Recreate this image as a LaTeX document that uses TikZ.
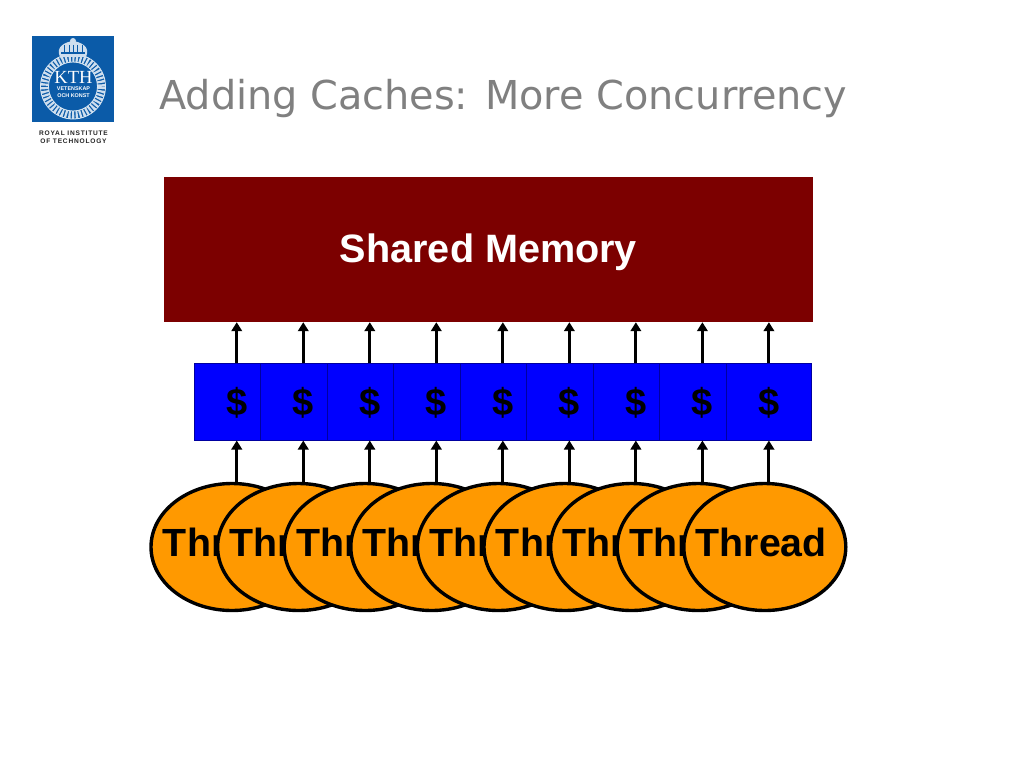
\documentclass[tikz,border=0pt]{standalone}
\usepackage{fontspec}
\setmainfont{Liberation Sans}
\newfontfamily\titlefont{DejaVu Sans}
\newfontfamily\kthfont{Liberation Serif}
\newfontfamily\capfont[LetterSpace=12]{Liberation Sans}
\usetikzlibrary{shapes.geometric,arrows.meta}
\definecolor{kthblue}{HTML}{0B5BA8}
\definecolor{memred}{HTML}{7C0000}
\definecolor{threadorange}{HTML}{FF9900}
\definecolor{titlegray}{HTML}{808080}
\definecolor{cacheedge}{HTML}{0000A0}
\tikzset{
  memorybox/.style={fill=memred,draw=none,minimum width=649pt,minimum height=145pt,inner sep=0pt},
  cachebox/.style={fill=blue,draw=cacheedge,line width=1pt,minimum width=85.5pt,minimum height=77pt,inner sep=0pt},
  threadell/.style={ellipse,fill=threadorange,draw=black,line width=3.4pt,minimum width=162pt,minimum height=127pt,inner sep=0pt},
  boldtext/.style={font=\fontsize{39.3pt}{44pt}\selectfont\bfseries,inner sep=0pt},
  dollar/.style={font=\fontsize{38pt}{44pt}\selectfont\bfseries,inner sep=0pt},
  flow/.style={draw=black,line width=3pt,-{Triangle[length=9pt,width=10.5pt]}},
  logotext/.style={text=white,font=\fontsize{5.4pt}{6pt}\selectfont\bfseries,inner sep=0pt},
  captext/.style={text=black!85,font=\capfont\fontsize{6.6pt}{7pt}\selectfont\bfseries,inner sep=0pt},
}
\begin{document}
\begin{tikzpicture}[x=1pt,y=-1pt]
\useasboundingbox (0,0) rectangle (1024,768);
\fill[white] (0,0) rectangle (1024,768);
% logo
\fill[kthblue] (32,36) rectangle (114,122);
\draw[white!80!kthblue,line width=8pt,dash pattern=on 2.2pt off 1.4pt] (73,86.5) circle (28.5pt);
\draw[white!85!kthblue,line width=0.8pt] (73,86.5) circle (24.5pt);
\draw[white!85!kthblue,line width=0.8pt] (73,86.5) circle (32.5pt);
\fill[white!80!kthblue] (60,57) .. controls (55,46) and (66,42) .. (73,41) .. controls (80,42) and (91,46) .. (86,57) -- cycle;
\fill[white!80!kthblue] (73,41) circle (3pt);
\foreach \s in {64,69,73,77,82}{\draw[kthblue,line width=0.8pt] (\s,45) -- (\s,52);}
\fill[kthblue] (61,52.5) rectangle (85,54);
\node[text=white,font=\kthfont\fontsize{18.5pt}{20pt}\selectfont,inner sep=0pt] (kth) at (73.5,77) {KTH};
\node[logotext] (vet) at (73.5,89) {VETENSKAP};
\node[logotext] (och) at (73.5,96) {OCH KONST};
\node[captext] (roy) at (73.5,133) {ROYAL INSTITUTE};
\node[captext] (tech) at (73.5,141.5) {OF TECHNOLOGY};
% title
\node[anchor=base west,text=titlegray,font=\titlefont\fontsize{39.8pt}{46pt}\selectfont,inner sep=0pt] (title) at (159,109) {Adding Caches: More Concurrency};
% memory
\node[memorybox] (mem) at (488.5,249.5) {};
\node[boldtext,text=white,font=\fontsize{39.6pt}{44pt}\selectfont\bfseries,anchor=base] (memlabel) at (488.5,262) {Shared Memory};
% threads
\foreach \i in {0,...,8}{
  \pgfmathsetmacro{\tx}{232+66.6*\i}
  \node[threadell] (t\i) at (\tx,547) {};
  \node[boldtext,text=black,anchor=base] (tl\i) at (\tx-3.5,556) {Thread};
}
% caches
\foreach \i in {0,...,8}{
  \pgfmathsetmacro{\cx}{236.75+66.52*\i}
  \node[cachebox] (c\i) at (\cx,401.5) {};
  \node[dollar,text=black,anchor=base] (d\i) at (\cx,415) {\$};
}
\foreach \i in {0,...,8}{
  \path[flow] (c\i.south |- t\i.north) -- (c\i.south);
  \path[flow] (c\i.north) -- (c\i.north |- mem.south);
}
\end{tikzpicture}
\end{document}
